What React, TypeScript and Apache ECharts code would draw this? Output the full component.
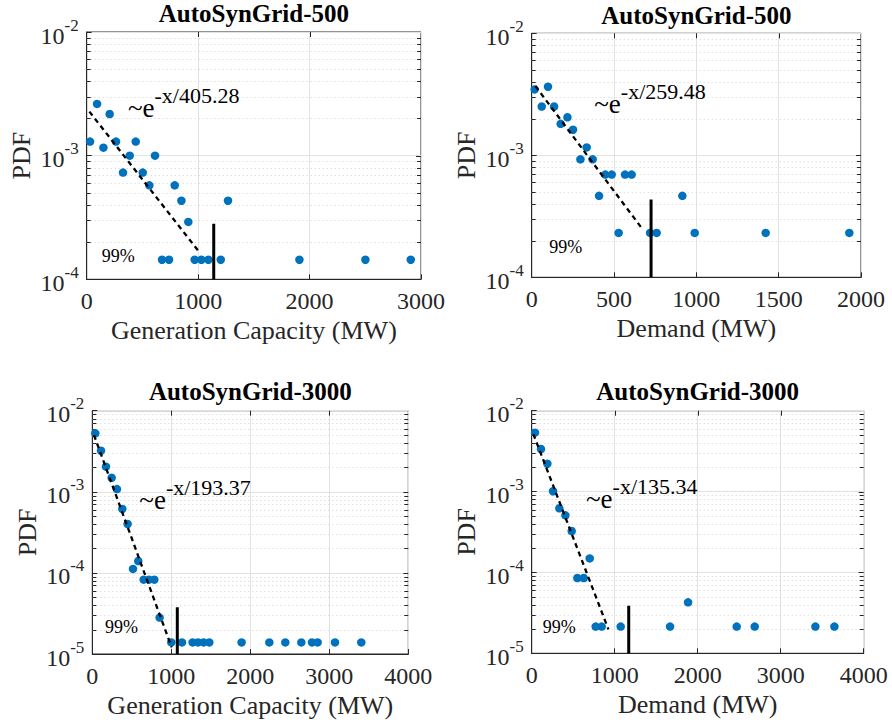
import React, { useEffect, useRef } from "react";
import * as echarts from "echarts";

const FONT = "Liberation Serif, Times New Roman, serif";

// ---- Data ----
// Panel 1: AutoSynGrid-500, Generation Capacity
const gen500X = [30, 93, 150, 206, 263, 326, 386, 440, 503, 562, 613, 790, 850, 912, 1268, 676, 739, 969, 1029, 1092, 1203, 1909, 2501, 2908];
const gen500Y = [1.3e-3, 2.62e-3, 1.16e-3, 2.17e-3, 1.3e-3, 7.29e-4, 1.0e-3, 1.3e-3, 7.29e-4, 5.75e-4, 1.0e-3, 5.75e-4, 4.32e-4, 2.91e-4, 4.32e-4, 1.44e-4, 1.44e-4, 1.44e-4, 1.44e-4, 1.44e-4, 1.44e-4, 1.44e-4, 1.44e-4, 1.44e-4];
const gen500FitX = [24, 1008];
const gen500FitY = [2.27e-3, 1.67e-4];
const gen500Pct = [1140, 2.82e-4];

// Panel 2: AutoSynGrid-500, Demand
const dem500X = [18, 61, 99, 136, 176, 217, 251, 296, 334, 370, 409, 447, 486, 567, 607, 915, 528, 719, 759, 990, 1421, 1929];
const dem500Y = [3.47e-3, 2.51e-3, 3.65e-3, 2.51e-3, 1.81e-3, 2.05e-3, 1.62e-3, 9.27e-4, 1.16e-3, 9.27e-4, 4.65e-4, 6.95e-4, 6.95e-4, 6.95e-4, 6.95e-4, 4.65e-4, 2.31e-4, 2.31e-4, 2.31e-4, 2.31e-4, 2.31e-4, 2.31e-4];
const dem500FitX = [22, 674];
const dem500FitY = [3.7e-3, 2.47e-4];
const dem500Pct = [725, 4.35e-4];

// Panel 3: AutoSynGrid-3000, Generation Capacity
const gen3000X = [38, 110, 173, 245, 312, 380, 447, 515, 582, 650, 717, 785, 852, 1000, 1135, 1270, 1338, 1409, 1481, 1890, 2241, 2443, 2646, 2781, 2852, 3072, 3405];
const gen3000Y = [5.26e-3, 3.21e-3, 2.04e-3, 1.49e-3, 1.08e-3, 6.14e-4, 4.01e-4, 1.12e-4, 1.4e-4, 8.25e-5, 8.25e-5, 8.25e-5, 2.81e-5, 1.39e-5, 1.39e-5, 1.39e-5, 1.39e-5, 1.39e-5, 1.39e-5, 1.39e-5, 1.39e-5, 1.39e-5, 1.39e-5, 1.39e-5, 1.39e-5, 1.39e-5, 1.39e-5];
const gen3000FitX = [21, 1004];
const gen3000FitY = [5.01e-3, 1.21e-5];
const gen3000Pct = [1076, 3.76e-5];

// Panel 4: AutoSynGrid-3000, Demand
const dem3000X = [40, 112, 189, 257, 333, 406, 482, 550, 627, 699, 1884, 771, 843, 1072, 1667, 2470, 2687, 3418, 3647];
const dem3000Y = [5.35e-3, 3.36e-3, 2.21e-3, 1.01e-3, 6.21e-4, 5.08e-4, 3.25e-4, 8.53e-5, 8.53e-5, 1.49e-4, 4.27e-5, 2.14e-5, 2.14e-5, 2.14e-5, 2.14e-5, 2.14e-5, 2.14e-5, 2.14e-5, 2.14e-5];
const dem3000FitX = [20, 924];
const dem3000FitY = [5.14e-3, 1.98e-5];
const dem3000Pct = [1169, 3.88e-5];

const fitExponents = ["-x/405.28", "-x/259.48", "-x/193.37", "-x/135.34"];
const titles = ["AutoSynGrid-500", "AutoSynGrid-500", "AutoSynGrid-3000", "AutoSynGrid-3000"];
const xNames = ["Generation Capacity (MW)", "Demand (MW)", "Generation Capacity (MW)", "Demand (MW)"];

// ---- Layout ----
const panels = [
  {
    xs: gen500X, ys: gen500Y, fitX: gen500FitX, fitY: gen500FitY, pct: gen500Pct,
    xMax: 3000, xInterval: 1000, yMinExp: -4, yMaxExp: -2,
    grid: { left: 86.7, top: 32, width: 334.3, height: 247.3 }, titleY: 13.5,
    annot: [370, 2.67e-3], pctLabel: [135, 1.54e-4],
  },
  {
    xs: dem500X, ys: dem500Y, fitX: dem500FitX, fitY: dem500FitY, pct: dem500Pct,
    xMax: 2000, xInterval: 500, yMinExp: -4, yMaxExp: -2,
    grid: { left: 531.7, top: 33.3, width: 329.3, height: 244 }, titleY: 15,
    annot: [380, 2.89e-3], pctLabel: [107, 1.76e-4],
  },
  {
    xs: gen3000X, ys: gen3000Y, fitX: gen3000FitX, fitY: gen3000FitY, pct: gen3000Pct,
    xMax: 4000, xInterval: 1000, yMinExp: -5, yMaxExp: -2,
    grid: { left: 92.3, top: 410.7, width: 316, height: 243.3 }, titleY: 391.7,
    annot: [595, 9.18e-4], pctLabel: [161, 2.17e-5],
  },
  {
    xs: dem3000X, ys: dem3000Y, fitX: dem3000FitX, fitY: dem3000FitY, pct: dem3000Pct,
    xMax: 4000, xInterval: 1000, yMinExp: -5, yMaxExp: -2,
    grid: { left: 531.7, top: 410.7, width: 332, height: 242.6 }, titleY: 391.7,
    annot: [654, 9.31e-4], pctLabel: [133, 2.13e-5],
  },
];

const AXIS_COLOR = "#262626";

function frameData(p: any) {
  const d: number[][] = [];
  for (let e = p.yMinExp; e < p.yMaxExp; e++) {
    for (let m = 2; m <= 9; m++) d.push([0, m * Math.pow(10, e), 0]);
  }
  for (let e = p.yMinExp + 1; e < p.yMaxExp; e++) d.push([0, Math.pow(10, e), 1]);
  for (let x = p.xInterval; x < p.xMax; x += p.xInterval) d.push([x, Math.pow(10, p.yMinExp), 2]);
  return d;
}

function renderFrame(params: any, api: any) {
  const cs = params.coordSys;
  const kind = api.value(2);
  const left = cs.x;
  const right = cs.x + cs.width;
  const top = cs.y;
  if (kind === 0) {
    const y = Math.round(api.coord([0, api.value(1)])[1]) + 0.5;
    return {
      type: "group",
      children: [
        { type: "line", shape: { x1: left, y1: y, x2: right, y2: y }, style: { stroke: "#d2d2d2", lineWidth: 1, lineDash: [1, 3] } },
        { type: "line", shape: { x1: left, y1: y, x2: left + 4, y2: y }, style: { stroke: AXIS_COLOR, lineWidth: 1 } },
        { type: "line", shape: { x1: right - 4, y1: y, x2: right, y2: y }, style: { stroke: AXIS_COLOR, lineWidth: 1 } },
      ],
    };
  }
  if (kind === 1) {
    const y = Math.round(api.coord([0, api.value(1)])[1]) + 0.5;
    return { type: "line", shape: { x1: right - 5, y1: y, x2: right, y2: y }, style: { stroke: AXIS_COLOR, lineWidth: 1 } };
  }
  const x = Math.round(api.coord([api.value(0), api.value(1)])[0]) + 0.5;
  return { type: "line", shape: { x1: x, y1: top, x2: x, y2: top + 5 }, style: { stroke: AXIS_COLOR, lineWidth: 1 } };
}

function buildOption() {
  const grid: any[] = [];
  const xAxis: any[] = [];
  const yAxis: any[] = [];
  const series: any[] = [];
  const graphic: any[] = [];

  panels.forEach((p, i) => {
    grid.push({ ...p.grid, show: true, borderColor: AXIS_COLOR, borderWidth: 1, backgroundColor: "#ffffff" });
    xAxis.push({
      gridIndex: i,
      type: "value",
      min: 0,
      max: p.xMax,
      interval: p.xInterval,
      axisLine: { show: true, lineStyle: { color: AXIS_COLOR, width: 1 } },
      axisTick: { show: true, inside: true, length: 5, lineStyle: { color: AXIS_COLOR } },
      axisLabel: {
        fontSize: 24,
        fontFamily: FONT,
        color: AXIS_COLOR,
        margin: 10,
        formatter: (v: number) => String(v),
      },
      splitLine: { show: true, lineStyle: { color: "#e2e2e2", width: 1 } },
      name: xNames[i],
      nameLocation: "middle",
      nameGap: 38,
      nameTextStyle: { fontSize: 26, fontFamily: FONT, color: AXIS_COLOR },
    });
    yAxis.push({
      gridIndex: i,
      type: "log",
      logBase: 10,
      min: Math.pow(10, p.yMinExp),
      max: Math.pow(10, p.yMaxExp),
      axisLine: { show: true, lineStyle: { color: AXIS_COLOR, width: 1 } },
      axisTick: { show: true, inside: true, length: 5, lineStyle: { color: AXIS_COLOR } },
      axisLabel: {
        margin: 8,
        color: AXIS_COLOR,
        fontFamily: FONT,
        formatter: (v: number) => `{b|10}{s|${Math.round(Math.log10(v))}}`,
        rich: {
          b: { fontSize: 24, fontFamily: FONT, color: AXIS_COLOR, padding: [7, 0, 0, 0] },
          s: { fontSize: 17, fontFamily: FONT, color: AXIS_COLOR, verticalAlign: "top", padding: [0, 0, 0, 0] },
        },
      },
      splitLine: { show: true, lineStyle: { color: "#e2e2e2", width: 1 } },
      name: "PDF",
      nameLocation: "middle",
      nameGap: 52,
      nameTextStyle: { fontSize: 26, fontFamily: FONT, color: AXIS_COLOR },
    });

    series.push({
      type: "custom",
      xAxisIndex: i,
      yAxisIndex: i,
      silent: true,
      z: 1,
      encode: { x: 0, y: 1 },
      data: frameData(p),
      renderItem: renderFrame,
    });

    series.push({
      type: "scatter",
      xAxisIndex: i,
      yAxisIndex: i,
      z: 3,
      symbol: "circle",
      symbolSize: 8.5,
      itemStyle: { color: "#0072BD", opacity: 1 },
      data: p.xs.map((x: number, j: number) => [x, p.ys[j]]),
      markPoint: {
        silent: true,
        symbol: "circle",
        symbolSize: 0,
        data: [
          {
            coord: p.annot,
            label: {
              show: true,
              position: "right",
              distance: 0,
              fontFamily: FONT,
              formatter: `{b|~e}{s|${fitExponents[i]}}`,
              rich: {
                b: { fontSize: 27, fontFamily: FONT, color: "#000", padding: [10, 0, 0, 0] },
                s: { fontSize: 22, fontFamily: FONT, color: "#000", verticalAlign: "top", padding: [0, 0, 0, 0] },
              },
            },
          },
          {
            coord: p.pctLabel,
            label: {
              show: true,
              position: "right",
              distance: 0,
              formatter: "99%",
              fontSize: 18,
              fontFamily: FONT,
              color: "#000",
            },
          },
        ],
      },
    });

    series.push({
      type: "line",
      xAxisIndex: i,
      yAxisIndex: i,
      z: 4,
      symbol: "none",
      silent: true,
      lineStyle: { color: "#000", width: 2.3, type: [5, 4] },
      data: p.fitX.map((x: number, j: number) => [x, p.fitY[j]]),
    });

    series.push({
      type: "line",
      xAxisIndex: i,
      yAxisIndex: i,
      z: 4,
      symbol: "none",
      silent: true,
      lineStyle: { color: "#000", width: 3 },
      data: [
        [p.pct[0], Math.pow(10, p.yMinExp)],
        [p.pct[0], p.pct[1]],
      ],
    });

    graphic.push({
      type: "text",
      x: p.grid.left + p.grid.width / 2,
      y: p.titleY,
      style: {
        text: titles[i],
        font: `bold 25px ${FONT}`,
        fill: "#000",
        textAlign: "center",
        textVerticalAlign: "middle",
      },
    });
  });

  return {
    animation: false,
    backgroundColor: "#ffffff",
    textStyle: { fontFamily: FONT },
    grid,
    xAxis,
    yAxis,
    series,
    graphic,
  };
}

export default function App() {
  const ref = useRef<HTMLDivElement>(null);
  useEffect(() => {
    if (!ref.current) return;
    const chart = echarts.init(ref.current, undefined, { renderer: "svg" });
    chart.setOption(buildOption() as any);
    return () => chart.dispose();
  }, []);
  return (
    <div
      ref={ref}
      style={{ position: "absolute", left: 0, top: 0, width: 892, height: 727, background: "#fff" }}
    />
  );
}
